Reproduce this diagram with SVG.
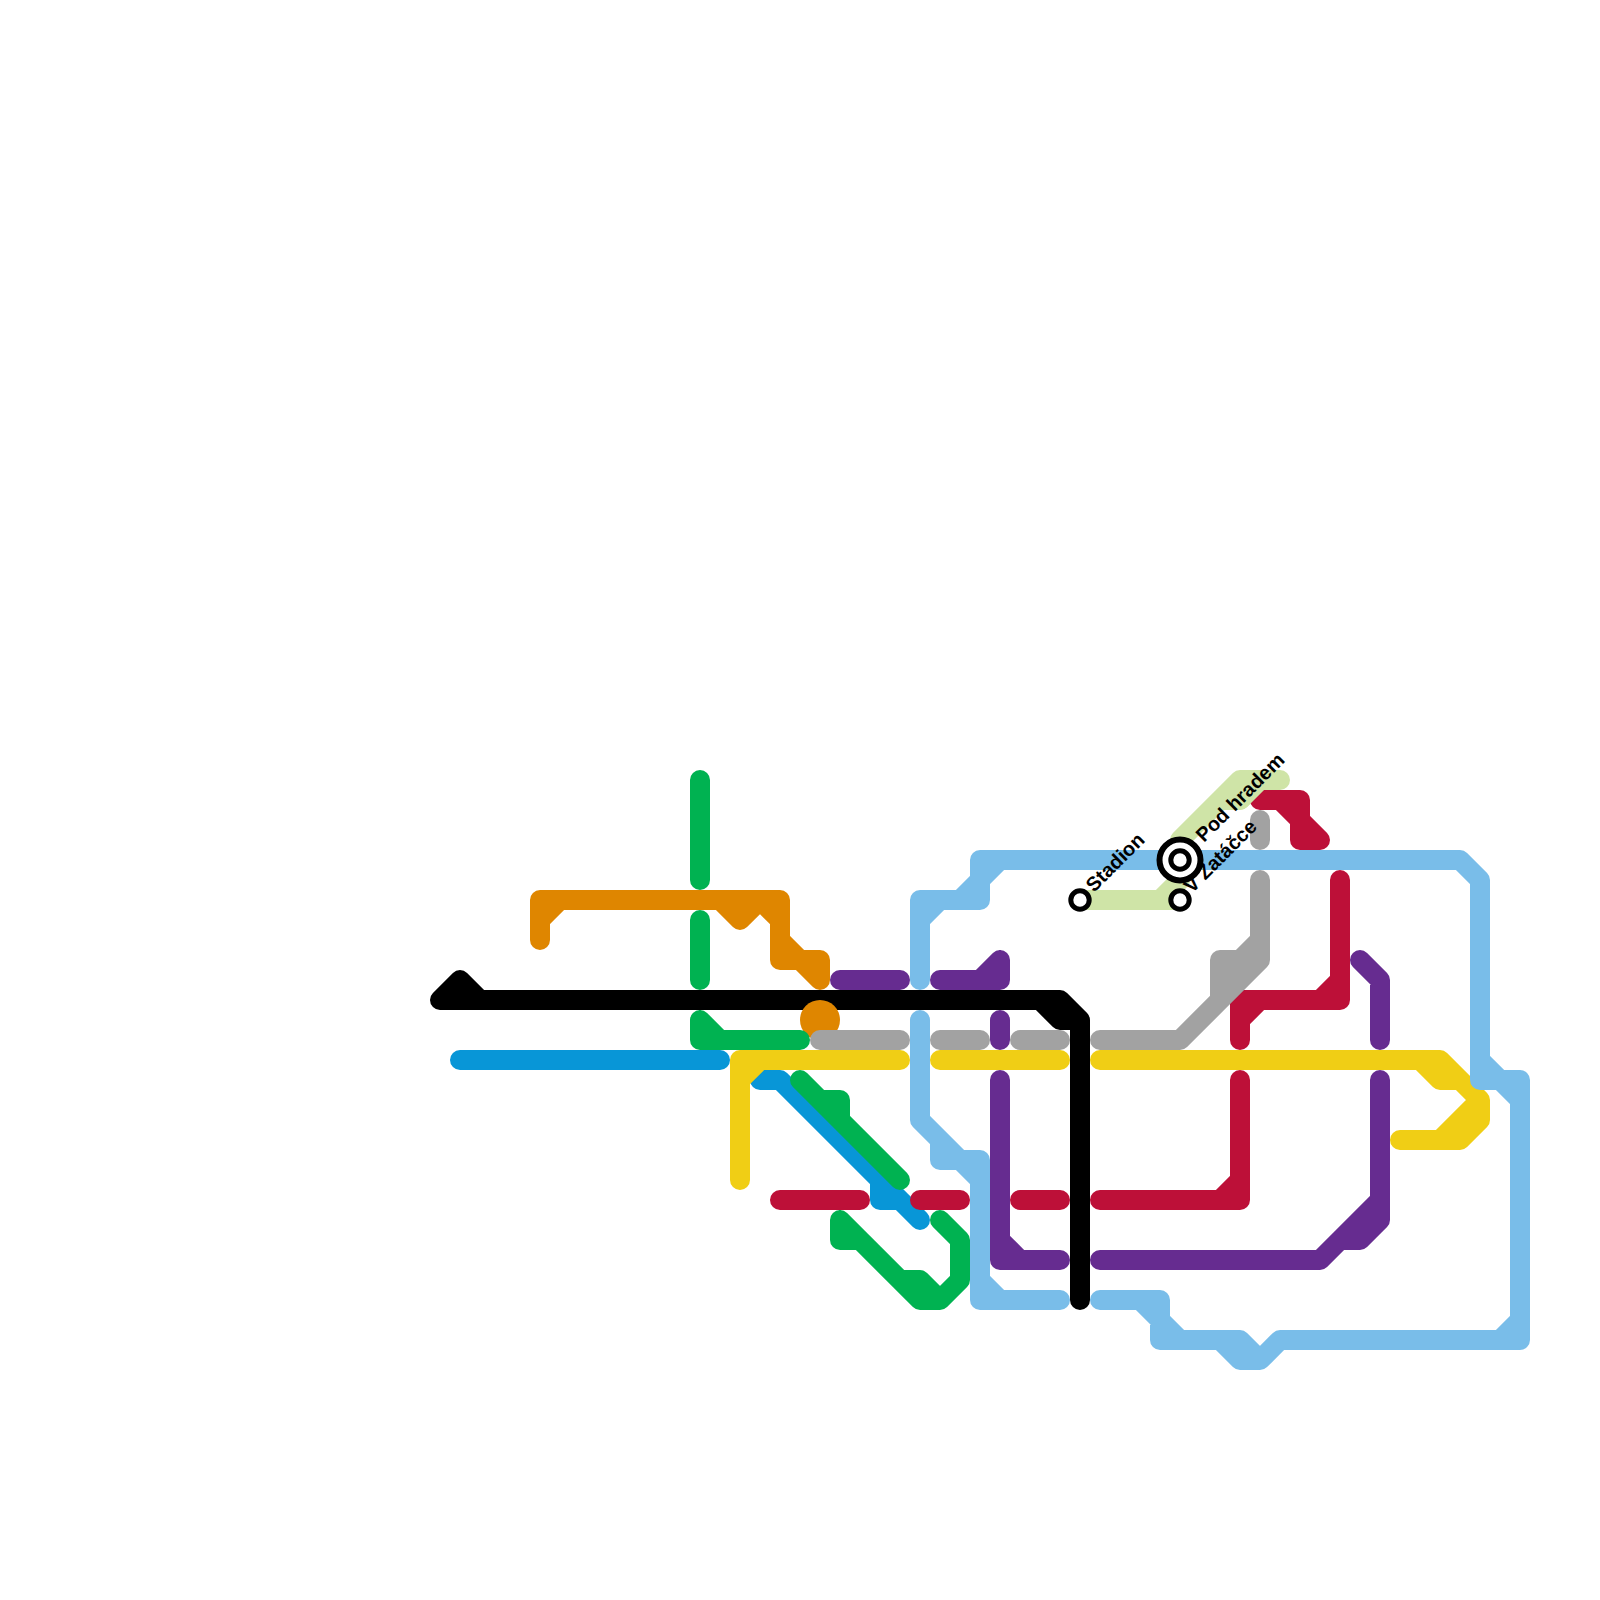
<svg xmlns="http://www.w3.org/2000/svg" width="1600" height="1600" viewBox="0 0 1600 1600">
<style>
.l{fill:none;stroke-width:20;stroke-linecap:round;stroke-linejoin:round}
.black{stroke:#000}.orange{stroke:#df8600}.green{stroke:#00b251}.blue{stroke:#0896d7}.yellow{stroke:#f0ce15}.gray{stroke:#a2a2a2}.sky{stroke:#79bde9}.purple{stroke:#662c90}.red{stroke:#bd1038}.lime{stroke:#cfe4a7}
.st{fill:#fff;stroke:#000}
text{font-family:"Liberation Sans",Arial,sans-serif;font-size:20px;font-weight:bold;fill:#000}
</style>
<rect width="1600" height="1600" fill="#fff"/>
<g id="connectors">
<path class="l lime" d="M1080,900H1180M1160,900L1180,880V840L1240,780H1280M1220,800H1240L1260,780"/>
<path class="l red" d="M1260,800H1300V840H1320M1280,800L1320,840"/>
<path class="l lime" d="M1240,800L1260,780"/>
<path class="l black" d="M440,1000L460,980L480,1000H1060L1080,1020V1300M1040,1000L1060,1020H1080M440,1000H480"/>
<path class="l orange" d="M540,940V900H780V960H820V980M540,920L560,900M720,900L740,920L760,900L780,920M780,940L820,980"/>
<circle cx="820" cy="1020" r="20" fill="#df8600"/>
<path class="l green" d="M700,780V880M700,920V980M700,1020V1040H800M700,1020L720,1040"/>
<path class="l blue" d="M460,1060H720M760,1080H780L920,1220M880,1180V1200H900"/>
<path class="l green" d="M800,1080L900,1180M800,1080L820,1100H840V1120M840,1220V1240H860L920,1300H940L960,1280V1240L940,1220M840,1220L900,1280H920L940,1300"/>
<path class="l yellow" d="M740,1180V1060H900M740,1080L760,1060M940,1060H1060M1100,1060H1440L1480,1100V1120L1460,1140H1400M1420,1060L1440,1080H1460M1480,1100L1440,1140"/>
<path class="l red" d="M780,1200H860M920,1200H960M1020,1200H1060M1100,1200H1240V1080M1220,1200L1240,1180M1240,1040V1000H1340V880M1240,1020L1260,1000M1320,1000L1340,980"/>
<path class="l gray" d="M820,1040H900M940,1040H980M1020,1040H1060M1100,1040H1180L1260,960V880M1220,1000V960H1240L1260,940M1220,980L1240,960M1260,820V840"/>
<path class="l purple" d="M840,980H900M940,980H1000V960M980,980L1000,960M1000,1020V1040M1000,1080V1260H1060M1000,1240L1020,1260M1100,1260H1320L1380,1200V1080M1320,1260L1340,1240H1360L1380,1220V1200M1360,960L1380,980V1040"/>
<path class="l sky" d="M920,980V900H980V860H1460L1480,880V1080H1520V1340H1280L1260,1360H1240L1220,1340H1160V1300H1100M940,900H960L980,880L1000,860M920,920L940,900M1480,1060L1520,1100M1500,1340L1520,1320M1140,1300L1180,1340M1220,1340H1240L1260,1360M920,1020V1120L960,1160H980V1300H1060M940,1140V1160H960L980,1180M980,1280L1000,1300"/>
</g>
<g id="stadion"><circle class="st" cx="1080" cy="900" r="9.2" stroke-width="5"/><text transform="translate(1094,893) rotate(-45)">Stadion</text></g>
<g id="v-zatacce"><circle class="st" cx="1180" cy="900" r="9.2" stroke-width="5"/><text transform="translate(1192,894) rotate(-45)">V Zatáčce</text></g>
<g id="pod-hradem"><circle class="st" cx="1180" cy="860" r="20.5" stroke-width="6"/><circle class="st" cx="1180" cy="860" r="9.2" stroke-width="5"/><text transform="translate(1204,843) rotate(-45)">Pod hradem</text></g>
</svg>
